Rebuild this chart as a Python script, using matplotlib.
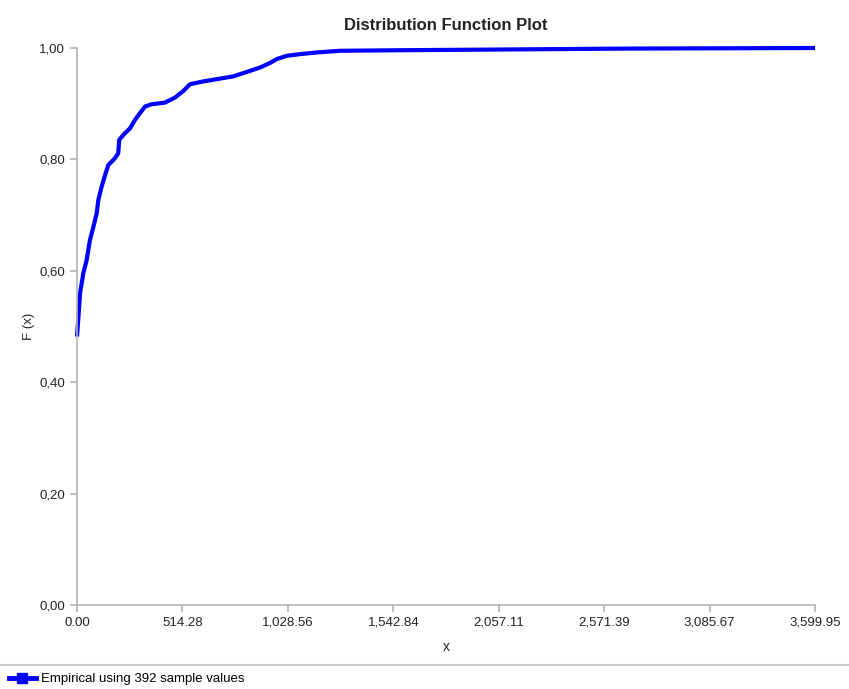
import matplotlib
matplotlib.use("Agg")
import matplotlib.pyplot as plt
import matplotlib.ticker as mticker
from matplotlib.lines import Line2D
import numpy as np

plt.rcParams['font.family'] = ['Liberation Sans', 'DejaVu Sans']

# empirical CDF
x_vals = [0, 6, 15, 31, 47, 63, 80, 96, 104, 120, 137, 153, 185, 201, 206, 226,
          259, 283, 307, 332, 364, 429, 478, 519, 551, 616, 681, 762, 828, 893,
          941, 974, 1023, 1088, 1169, 1283, 1576, 2707, 3599.95]
f_vals = [0.482, 0.512, 0.560, 0.596, 0.619, 0.655, 0.679, 0.703, 0.727, 0.751,
          0.772, 0.790, 0.802, 0.811, 0.835, 0.844, 0.856, 0.871, 0.883, 0.895,
          0.899, 0.902, 0.911, 0.923, 0.935, 0.940, 0.944, 0.949, 0.957, 0.965,
          0.973, 0.980, 0.986, 0.989, 0.992, 0.995, 0.996, 0.999, 1.0]
x_ticks = np.linspace(0, 3599.95, 8)
y_ticks = [0.0, 0.2, 0.4, 0.6, 0.8, 1.0]
legend_label = "Empirical using 392 sample values"

fig = plt.figure(figsize=(8.49, 6.89), dpi=100)
ax = fig.add_axes([77/849, 1 - 605/689, (815-77)/849, (605-48)/689])

ax.plot(x_vals, f_vals, color='#0000ff', lw=3.0, clip_on=False,
        solid_capstyle='butt')

ax.set_xlim(0, 3599.95)
ax.set_ylim(0, 1.0)
ax.set_xticks(x_ticks)
ax.set_yticks(y_ticks)
ax.xaxis.set_major_formatter(mticker.FuncFormatter(lambda v, p: f"{v:,.2f}"))
ax.yaxis.set_major_formatter(mticker.FuncFormatter(lambda v, p: f"{v:.2f}".replace('.', ',')))

for s in ['top', 'right']:
    ax.spines[s].set_visible(False)
for s in ['left', 'bottom']:
    ax.spines[s].set_color('#b4b4b4')
    ax.spines[s].set_linewidth(1.2)
ax.tick_params(colors='#b4b4b4', labelcolor='#222222', labelsize=9.5,
               length=5, width=1.2)

ax.set_title("Distribution Function Plot", fontsize=12, fontweight='bold',
             color='#222222', pad=13)
ax.set_xlabel("x", fontsize=10, color='#222222', labelpad=8)
ax.set_ylabel("F (x)", fontsize=9.5, color='#222222', labelpad=3)

# separator and legend at the bottom
fig.add_artist(Line2D([0, 1], [1 - 665/689, 1 - 665/689], color='#c8c8c8', lw=1.5))
handle = Line2D([], [], color='#0000ff', lw=3.5, marker='s', markersize=7)
fig.legend([handle], [legend_label], loc='center left',
           bbox_to_anchor=(0.0, 1 - 679/689), frameon=False, fontsize=9.5,
           handlelength=2.0, handletextpad=0.4, borderaxespad=0.3)

fig.savefig("out.png", dpi=100)
